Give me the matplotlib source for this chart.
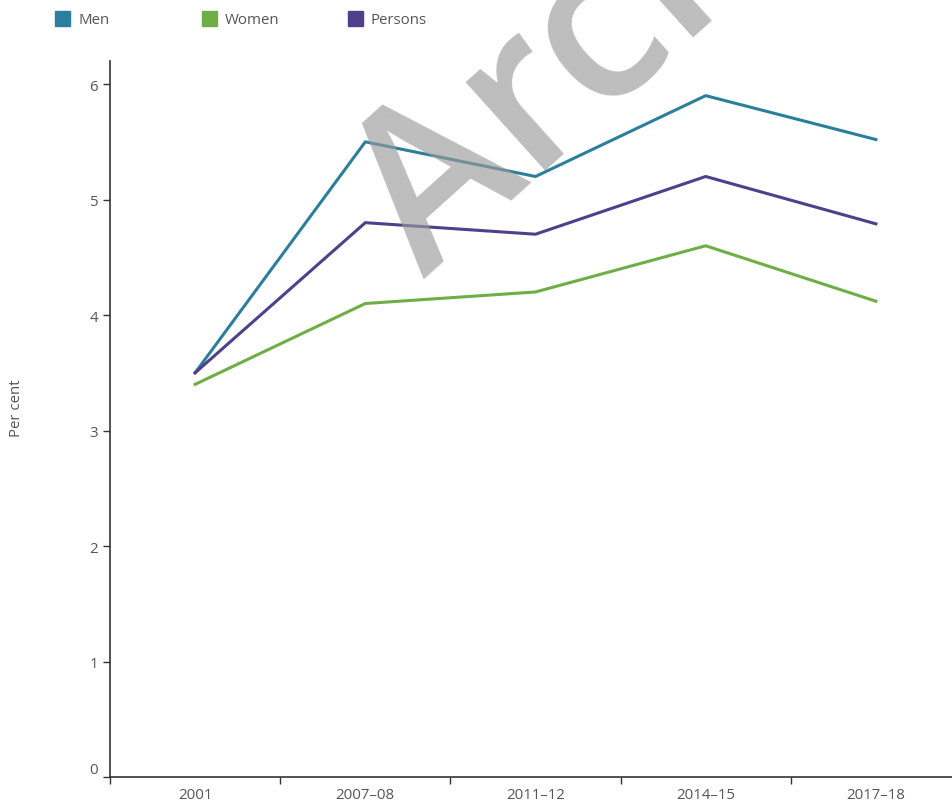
import matplotlib.pyplot as plt
from matplotlib.patches import Rectangle

plt.rcParams['font.family'] = ['Open Sans', 'DejaVu Sans']

years = ["2001", "2007–08", "2011–12", "2014–15", "2017–18"]
men = [3.5, 5.5, 5.2, 5.9, 5.52]
women = [3.4, 4.1, 4.2, 4.6, 4.12]
persons = [3.5, 4.8, 4.7, 5.2, 4.79]

series = [("Men", men, "#2c7f9c"),
          ("Women", women, "#6fae45"),
          ("Persons", persons, "#503f8a")]

W, H = 952, 803
fig = plt.figure(figsize=(W / 100, H / 100), dpi=100)
ax = fig.add_axes([110 / W, 25 / H, 851 / W, 716 / H])

x = range(len(years))
for name, vals, col in series:
    ax.plot(x, vals, color=col, lw=2.2)

ax.set_xlim(-0.5, len(years) - 0.5)
ax.set_ylim(0, 6.2)
ax.set_yticks(range(0, 7))
ax.set_xticks([i - 0.5 for i in range(len(years) + 1)], minor=False)
ax.set_xticklabels([])
ax.set_xticks(list(x), minor=True)
ax.set_xticklabels(years, minor=True)
ax.tick_params(axis='x', which='minor', length=0, pad=7, labelsize=10.8, labelcolor='#555555')
ax.tick_params(axis='x', which='major', length=5, width=1, color='#333333')
ax.tick_params(axis='y', length=5, width=1, color='#333333', labelsize=10.8, labelcolor='#555555')
ax.get_yticklabels()[0].set_va('bottom')
for s in ['top', 'right']:
    ax.spines[s].set_visible(False)
for s in ['left', 'bottom']:
    ax.spines[s].set_color('#333333')
    ax.spines[s].set_linewidth(1.2)

fig.text(17 / W, 1 - 408 / H, "Per cent", rotation=90, ha='center', va='center',
         fontsize=10.8, color='#555555')

# legend
for i, (name, vals, col) in enumerate(series):
    x0 = 55 + i * 146.5
    fig.patches.append(Rectangle((x0 / W, 1 - 27 / H), 15 / W, 15 / H,
                                 transform=fig.transFigure, color=col))
    fig.text((x0 + 23) / W, 1 - 20 / H, name, ha='left', va='center',
             fontsize=10.8, color='#555555')

# watermark
fig.text(425 / W, 1 - 280 / H, "Archived", rotation=42, rotation_mode='anchor',
         ha='left', va='baseline', fontsize=158, fontweight='semibold',
         color='#9a9a9a', alpha=0.65, zorder=10)

fig.savefig("out.png", dpi=100)
